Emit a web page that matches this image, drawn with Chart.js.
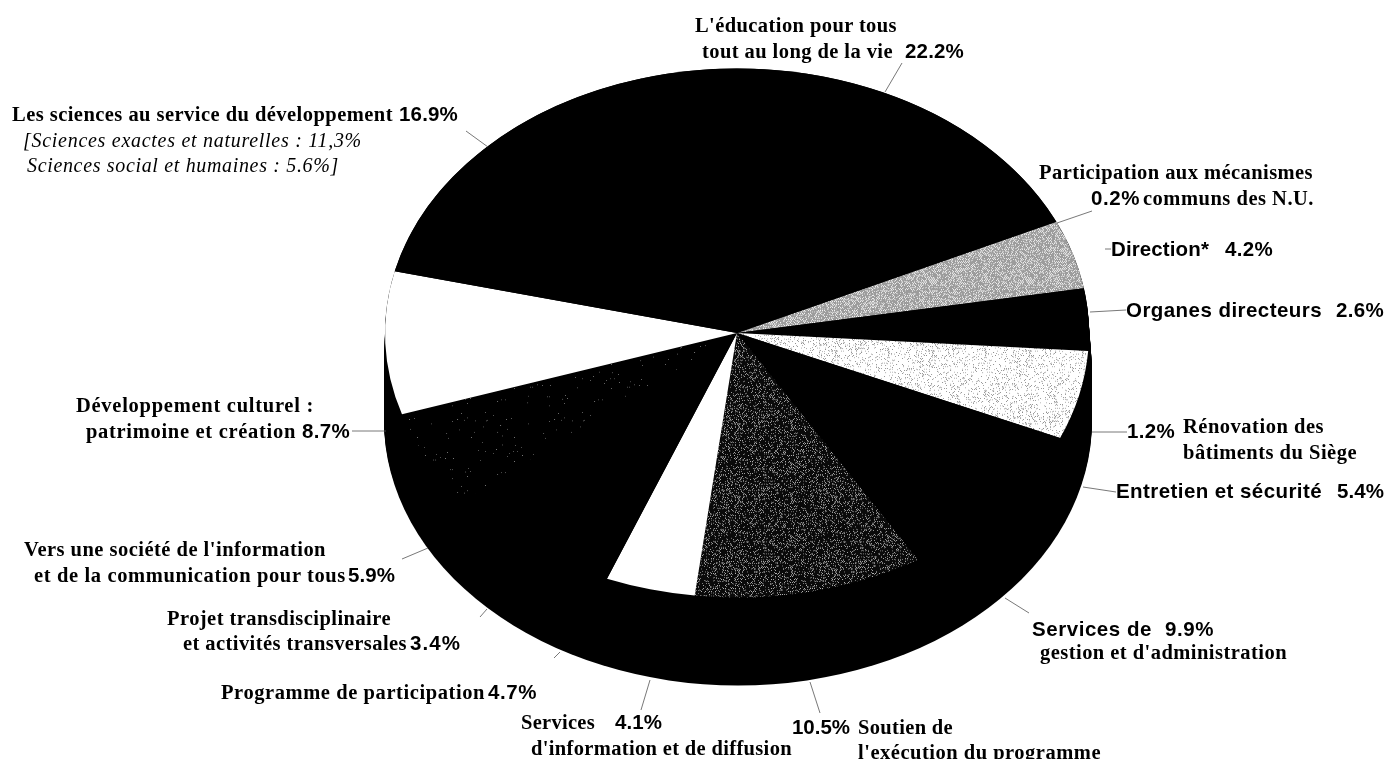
<!DOCTYPE html>
<html lang="fr">
<head>
<meta charset="UTF-8">
<title>Budget par grand programme</title>
<script src="https://cdn.jsdelivr.net/npm/chart.js"></script>
<style>
    html, body { margin: 0; background: #fff; }
    #wrap { position: relative; width: 1387px; height: 759px; overflow: hidden; }
    #pie, #leaders { position: absolute; left: 0; top: 0; }
    .t { position: absolute; white-space: pre; line-height: 24px; color: #000; }
    .s { font: bold 20.5px/24px "Liberation Serif", serif; }
    .i { font: italic 20px/24px "Liberation Serif", serif; }
    .a { font: bold 20.5px/24px "Liberation Sans", Arial, sans-serif; }
</style>
</head>
<body>
<div id="wrap">
    <canvas id="pie" width="1387" height="759"></canvas>
    <svg id="leaders" width="1387" height="759"></svg>
</div>
<script>
// clockwise, starting at the Direction wedge
const categories = ['Direction', 'Organes directeurs', 'Rénovation des bâtiments du Siège', 'Entretien et sécurité',
    'Services de gestion et d\'administration', 'Soutien de l\'exécution du programme', 'Services d\'information et de diffusion',
    'Programme de participation', 'Projet transdisciplinaire et activités transversales',
    'Vers une société de l\'information et de la communication pour tous', 'Développement culturel : patrimoine et création',
    'Les sciences au service du développement', 'L\'éducation pour tous tout au long de la vie',
    'Participation aux mécanismes communs des N.U.'];
const values = [4.2, 2.6, 1.2, 5.4, 9.9, 10.5, 4.1, 4.7, 3.4, 5.9, 8.7, 16.9, 22.2, 0.2];
const shades = ['gray', 'black', 'black', 'light', 'black', 'dark', 'white', 'black', 'black', 'speck', 'white', 'black', 'black', 'black'];

// text, left, right, vertical centre, style
const labelLines = [
    ['L\'éducation pour tous', 695, 897, 25, 's'],
    ['tout au long de la vie', 702, 893, 51, 's'],
    ['22.2%', 905, 964, 51, 'a'],
    ['Les sciences au service du développement', 12, 393, 114, 's'],
    ['16.9%', 399, 458, 114, 'a'],
    ['[Sciences exactes et naturelles : 11,3%', 23, 362, 140, 'i'],
    ['Sciences social et humaines : 5.6%]', 27, 339, 165, 'i'],
    ['Participation aux mécanismes', 1039, 1313, 172, 's'],
    ['0.2%', 1091, 1140, 198, 'a'],
    ['communs des N.U.', 1143, 1314, 198, 's'],
    ['Direction*', 1111, 1209, 249, 'a'],
    ['4.2%', 1225, 1273, 249, 'a'],
    ['Organes directeurs', 1126, 1322, 310, 'a'],
    ['2.6%', 1336, 1384, 310, 'a'],
    ['1.2%', 1127, 1175, 431, 'a'],
    ['Rénovation des', 1183, 1324, 426, 's'],
    ['bâtiments du Siège', 1183, 1357, 452, 's'],
    ['Entretien et sécurité', 1116, 1322, 491, 'a'],
    ['5.4%', 1337, 1384, 491, 'a'],
    ['Services de', 1032, 1152, 629, 'a'],
    ['9.9%', 1165, 1214, 629, 'a'],
    ['gestion et d\'administration', 1040, 1287, 652, 's'],
    ['10.5%', 792, 850, 727, 'a'],
    ['Soutien de', 858, 953, 727, 's'],
    ['l\'exécution du programme', 858, 1101, 752, 's'],
    ['Services', 521, 595, 722, 's'],
    ['4.1%', 615, 662, 722, 'a'],
    ['d\'information et de diffusion', 531, 792, 748, 's'],
    ['Programme de participation', 221, 485, 692, 's'],
    ['4.7%', 488, 537, 692, 'a'],
    ['Projet transdisciplinaire', 167, 391, 618, 's'],
    ['et activités transversales', 183, 407, 643, 's'],
    ['3.4%', 410, 461, 643, 'a'],
    ['Vers une société de l\'information', 24, 326, 549, 's'],
    ['et de la communication pour tous', 34, 346, 575, 's'],
    ['5.9%', 348, 395, 575, 'a'],
    ['Développement culturel :', 76, 314, 405, 's'],
    ['patrimoine et création', 86, 296, 431, 's'],
    ['8.7%', 302, 350, 431, 'a']
];

const leaderLines = [
    [902, 63, 885, 92], [466, 131, 488, 147], [1092, 211, 1057, 223], [1105, 249, 1111, 249],
    [1090, 312, 1126, 310], [1092, 432, 1127, 432], [1083, 487, 1116, 492], [1005, 598, 1029, 613],
    [810, 682, 820, 713], [650, 680, 641, 710], [560, 652, 554, 658], [487, 609, 480, 617],
    [428, 548, 402, 559], [386, 431, 352, 431]
];

// pie geometry on the page
const pieX = 737, pieY = 333, pieRx = 352, pieRy = 264.5, pieDepth = 88;

// stippled tile: checker dots kept by a fixed hash, dot colour on a base colour
function stipple(base, dot, density) {
    const size = 97;
    const c = document.createElement('canvas');
    c.width = c.height = size;
    const g = c.getContext('2d');
    g.fillStyle = base;
    g.fillRect(0, 0, size, size);
    g.fillStyle = dot;
    for (let y = 0; y < size; y++) {
        for (let x = 0; x < size; x++) {
            const h = Math.abs(Math.sin(x * 12.9898 + y * 78.233) * 43758.5453) % 1;
            if ((x + y) % 2 === 0 && h < density) g.fillRect(x, y, 1, 1);
        }
    }
    return g.createPattern(c, 'repeat');
}

const ctx = document.getElementById('pie').getContext('2d');
const fills = {
    black: '#000',
    white: '#fff',
    gray: stipple('#9c9c9c', '#f4f4f4', 0.5),
    light: stipple('#fff', '#8a8a8a', 0.2),
    dark: stipple('#0a0a0a', '#b0b0b0', 0.3),
    speck: stipple('#000', '#777', 0.012)
};

// squashes the round pie into an ellipse and puts the black side under it
const tiltPlugin = {
    id: 'tilt',
    beforeDatasetsDraw(chart) {
        const c = chart.ctx, arc = chart.getDatasetMeta(0).data[0];
        const k = pieRy / arc.outerRadius;
        c.save();
        c.fillStyle = '#000';
        // side bulges a little wider than the top face, as in the scan
        for (let d = 0; d <= pieDepth; d += 2) {
            const grow = Math.min(d / 40, 1);
            c.beginPath();
            c.ellipse(pieX + grow, pieY + d, pieRx + 2 * grow, pieRy, 0, 0, Math.PI * 2);
            c.fill();
        }
        c.translate(0, pieY - arc.y * k);
        c.scale(1, k);
    },
    afterDatasetsDraw(chart) {
        chart.ctx.restore();
    }
};

new Chart(ctx, {
    type: 'pie',
    data: {
        labels: categories,
        datasets: [{
            data: values,
            backgroundColor: shades.map(s => fills[s]),
            borderWidth: 0,
            hoverOffset: 0,
            clip: false
        }]
    },
    options: {
        responsive: false,
        animation: false,
        rotation: 65.1,
        layout: { padding: { left: pieX - pieRx, right: 1387 - pieX - pieRx, top: (759 - pieRx * 2) / 2, bottom: (759 - pieRx * 2) / 2 } },
        plugins: { legend: { display: false }, tooltip: { enabled: false } }
    },
    plugins: [tiltPlugin]
});

// leader lines
const svg = document.getElementById('leaders');
leaderLines.forEach(l => {
    const el = document.createElementNS('http://www.w3.org/2000/svg', 'line');
    el.setAttribute('x1', l[0]); el.setAttribute('y1', l[1]);
    el.setAttribute('x2', l[2]); el.setAttribute('y2', l[3]);
    el.setAttribute('stroke', '#555'); el.setAttribute('stroke-width', '0.8');
    svg.appendChild(el);
});

// labels, letter-spacing fitted to the width seen in the scan
const wrap = document.getElementById('wrap');
labelLines.forEach(l => {
    const el = document.createElement('div');
    el.className = 't ' + l[4];
    el.textContent = l[0];
    el.style.left = l[1] + 'px';
    el.style.top = (l[3] - 12) + 'px';
    wrap.appendChild(el);
    const extra = (l[2] - l[1] - el.getBoundingClientRect().width) / l[0].length;
    el.style.letterSpacing = extra.toFixed(3) + 'px';
});
</script>
</body>
</html>
